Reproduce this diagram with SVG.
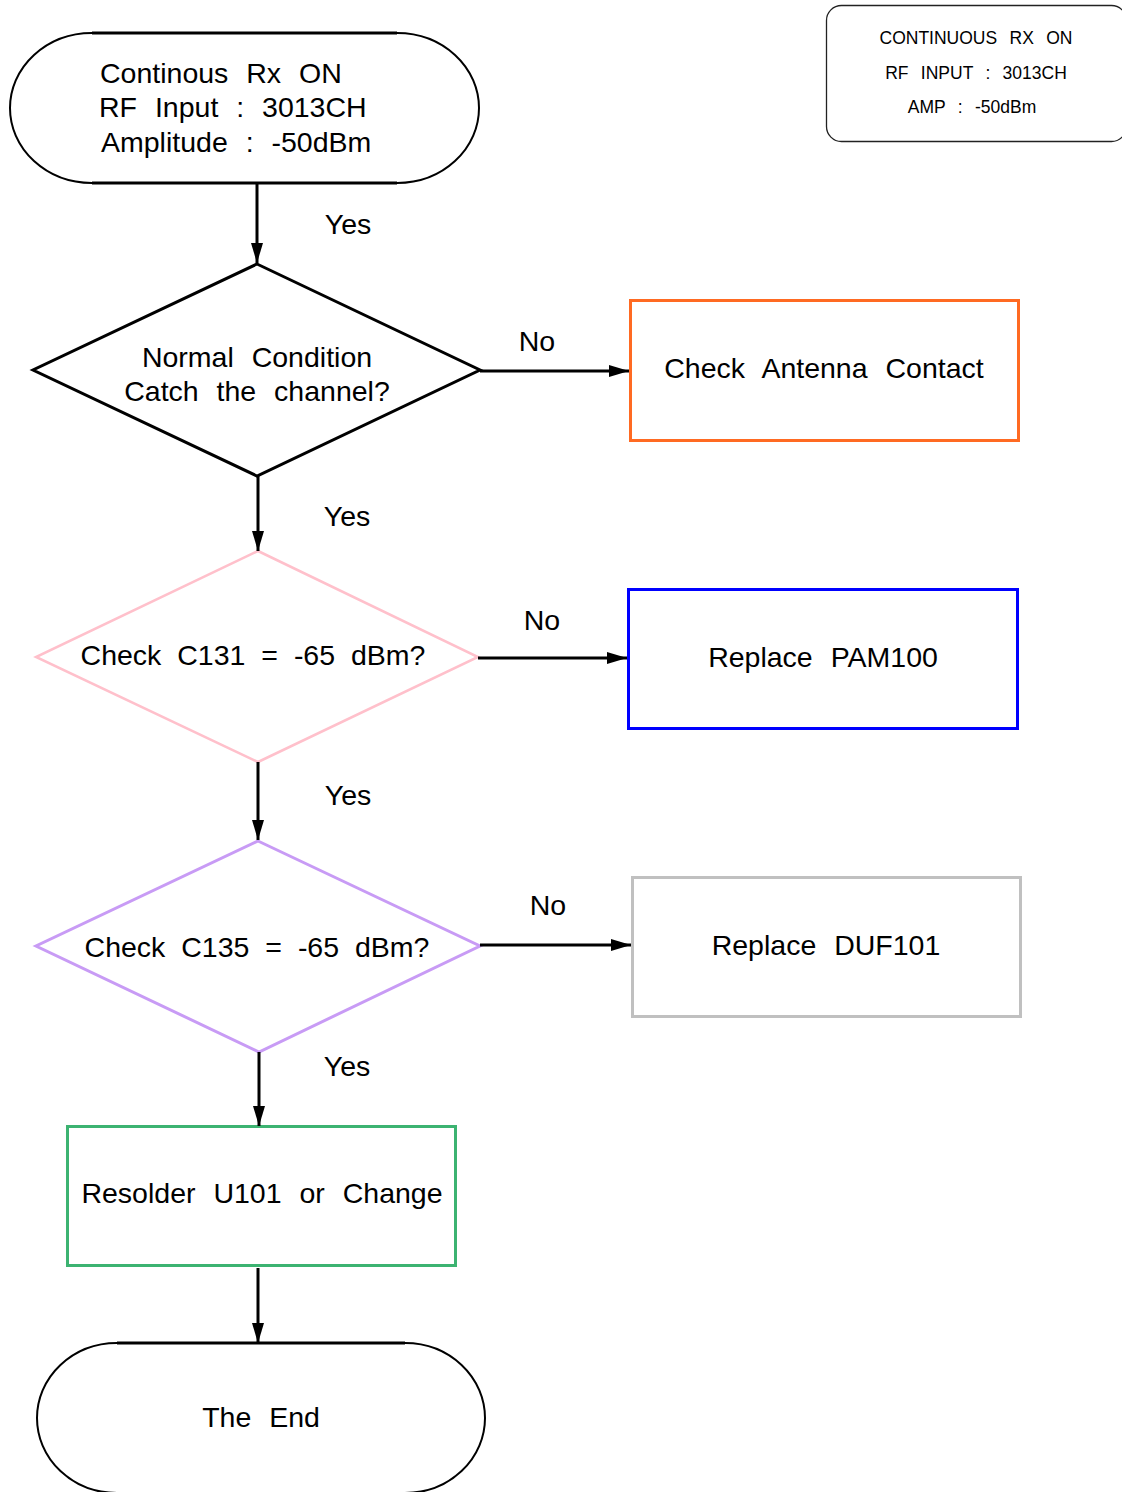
<svg xmlns="http://www.w3.org/2000/svg" width="1122" height="1492" viewBox="0 0 1122 1492">
<style>
text{font-family:"Liberation Sans",Arial,sans-serif;fill:#000;}
.t{font-size:28.5px;word-spacing:10px;}
.dt{font-size:28.5px;word-spacing:8px;text-anchor:middle;}
.c{text-anchor:middle;}
.lbl{font-size:28.5px;text-anchor:middle;}
.note{font-size:17.5px;word-spacing:7.5px;text-anchor:middle;}
.term{fill:#fff;stroke:#000;stroke-width:2;}
.edge{stroke:#000;stroke-width:3;fill:none;}
.conn{stroke:#000;stroke-width:3;fill:none;marker-end:url(#ah);}
</style>
<defs>
<marker id="ah" markerUnits="userSpaceOnUse" markerWidth="20" markerHeight="12" refX="20" refY="6" orient="auto">
<path d="M0,0 L20,6 L0,12 z" fill="#000"/>
</marker>
</defs>
<rect width="1122" height="1492" fill="#fff"/>

<g id="note">
<rect x="826.5" y="5.5" width="300" height="136" rx="15" ry="15" fill="#fff" stroke="#222" stroke-width="1.3"/>
<text class="note" x="976" y="44">CONTINUOUS RX ON</text>
<text class="note" x="976" y="79">RF INPUT : 3013CH</text>
<text class="note" x="972" y="113">AMP : -50dBm</text>
</g>

<g id="start">
<rect class="term" x="10" y="33" width="469" height="150" rx="82" ry="75"/>
<line class="edge" x1="92" y1="33" x2="397" y2="33"/>
<line class="edge" x1="92" y1="183" x2="397" y2="183"/>
<text class="t" x="100" y="83">Continous Rx ON</text>
<text class="t" x="99" y="117">RF Input : 3013CH</text>
<text class="t" x="101" y="152">Amplitude : -50dBm</text>
</g>

<g id="d1">
<polygon points="257,264 480,370 257,476 33,370" fill="#fff" stroke="#000" stroke-width="3"/>
<text class="t c" x="257" y="367">Normal Condition</text>
<text class="t c" x="257" y="401">Catch the channel?</text>
</g>

<g id="b1">
<rect x="630.5" y="300.5" width="388" height="140" fill="#fff" stroke="#FF6A22" stroke-width="3"/>
<text class="t c" x="824" y="378">Check Antenna Contact</text>
</g>

<g id="d2">
<polygon points="258,551 478,657 258,762 36,657" fill="#fff" stroke="#FFC0CB" stroke-width="2.5"/>
<text class="dt" x="253" y="665">Check C131 = -65 dBm?</text>
</g>

<g id="b2">
<rect x="628.5" y="589.5" width="389" height="139" fill="#fff" stroke="#0000FF" stroke-width="3"/>
<text class="t c" x="823" y="667">Replace PAM100</text>
</g>

<g id="d3">
<polygon points="258,841 480,946 259,1052 36,946" fill="#fff" stroke="#C89BF5" stroke-width="3"/>
<text class="dt" x="257" y="957">Check C135 = -65 dBm?</text>
</g>

<g id="b3">
<rect x="632.5" y="877.5" width="388" height="139" fill="#fff" stroke="#C0C0C0" stroke-width="3"/>
<text class="t c" x="826" y="955">Replace DUF101</text>
</g>

<g id="b4">
<rect x="67.5" y="1126.5" width="388" height="139" fill="#fff" stroke="#3CB371" stroke-width="3"/>
<text class="t c" x="262" y="1203">Resolder U101 or Change</text>
</g>

<g id="end">
<rect class="term" x="37" y="1343" width="448" height="150" rx="80" ry="75"/>
<line class="edge" x1="117" y1="1343" x2="405" y2="1343"/>
<text class="t c" x="261" y="1427">The End</text>
</g>

<g id="connectors">
<line class="conn" x1="257" y1="184" x2="257" y2="263"/>
<line class="conn" x1="480" y1="371" x2="629" y2="371"/>
<line class="conn" x1="258" y1="476" x2="258" y2="551"/>
<line class="conn" x1="478" y1="658" x2="627" y2="658"/>
<line class="conn" x1="258" y1="762" x2="258" y2="840"/>
<line class="conn" x1="480" y1="945" x2="631" y2="945"/>
<line class="conn" x1="259" y1="1052" x2="259" y2="1126"/>
<line class="conn" x1="258" y1="1268" x2="258" y2="1343"/>
<text class="lbl" x="348" y="234">Yes</text>
<text class="lbl" x="537" y="351">No</text>
<text class="lbl" x="347" y="526">Yes</text>
<text class="lbl" x="542" y="630">No</text>
<text class="lbl" x="348" y="805">Yes</text>
<text class="lbl" x="548" y="915">No</text>
<text class="lbl" x="347" y="1076">Yes</text>
</g>
</svg>
